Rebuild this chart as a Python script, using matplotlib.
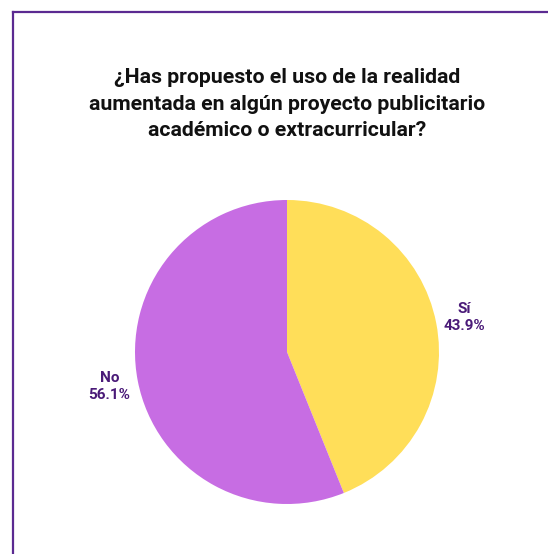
import matplotlib
matplotlib.use("Agg")
import matplotlib.pyplot as plt
from matplotlib.lines import Line2D

categories = ["Sí", "No"]
values = [43.9, 56.1]
colors = ["#FFDE59", "#C76DE3"]
title = "¿Has propuesto el uso de la realidad\naumentada en algún proyecto publicitario\nacadémico o extracurricular?"

W, H = 548, 554
fig = plt.figure(figsize=(W / 100, H / 100), dpi=100)
fig.patch.set_facecolor("white")

# frame lines along the top and left
border = "#5B2A91"
fig.add_artist(Line2D([12.5 / W, 12.5 / W], [0, 1 - 11.5 / H], color=border, lw=1.6,
                      transform=fig.transFigure))
fig.add_artist(Line2D([12.5 / W, 1], [1 - 11.5 / H, 1 - 11.5 / H], color=border, lw=1.6,
                      transform=fig.transFigure))

fig.text(287 / W, 1 - 104 / H, title, ha="center", va="center", fontsize=15.3,
         fontweight="bold", family="Roboto", color="#111111", linespacing=1.52)

cx, cy, r = 287, 352, 152
ax = fig.add_axes([(cx - r) / W, (H - cy - r) / H, 2 * r / W, 2 * r / H])
labels = [f"{c}\n{v:.1f}%" for c, v in zip(categories, values)]
wedges, texts = ax.pie(values, colors=colors, labels=labels, startangle=90,
                       counterclock=False, labeldistance=1.19, radius=1,
                       wedgeprops=dict(linewidth=0),
                       textprops=dict(fontsize=11, fontweight="bold", family="Roboto",
                                      color="#4A1A78", ha="center", va="center",
                                      linespacing=1.3))
ax.set_xlim(-1, 1)
ax.set_ylim(-1, 1)
ax.set_aspect("equal")
ax.axis("off")

fig.savefig("out.png", dpi=100, facecolor="white")
